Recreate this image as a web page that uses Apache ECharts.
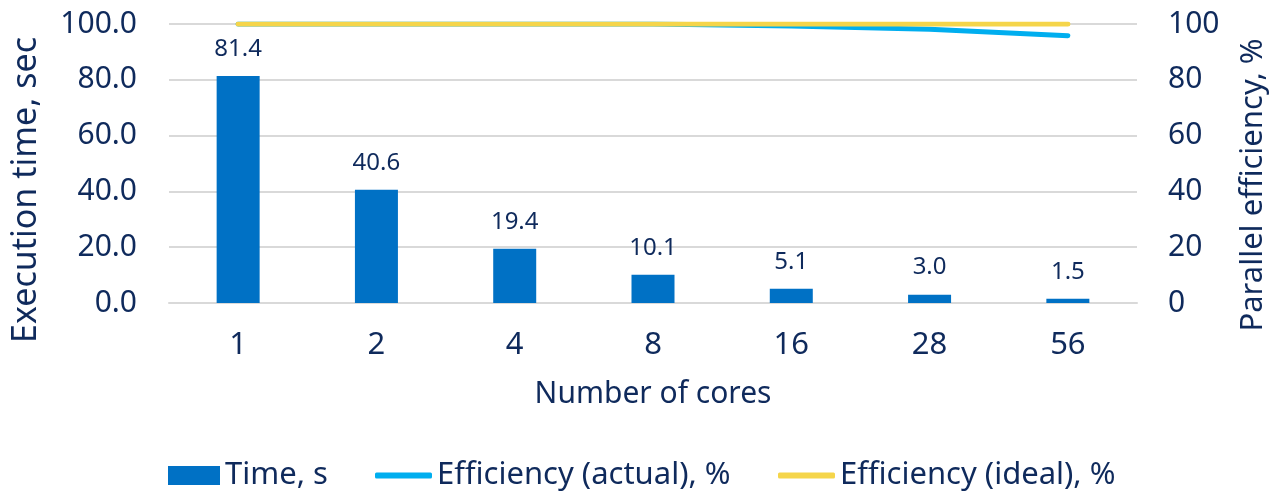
<!DOCTYPE html>
<html>
<head>
<meta charset="utf-8">
<script src="https://cdn.jsdelivr.net/npm/echarts@6/dist/echarts.min.js"></script>
<style>
html,body{margin:0;padding:0;background:#fff;}
#chart{width:1272px;height:492px;}
</style>
</head>
<body>
<div id="chart"></div>
<script>
const categories = ['1', '2', '4', '8', '16', '28', '56'];
const timeValues = [81.4, 40.6, 19.4, 10.1, 5.1, 3.0, 1.5];
const effActual = [100, 100, 100, 100, 99.3, 98.1, 95.8];
const effIdeal = [100, 100, 100, 100, 100, 100, 100];
const leftTicks = [0, 20, 40, 60, 80, 100];
const seriesNames = ['Time, s', 'Efficiency (actual), %', 'Efficiency (ideal), %'];

const TXT = '#0f2a5c';
const FONT = '"Noto Sans", "Open Sans", sans-serif';
const BAR = '#0071c5', ACT = '#00aeef', IDL = '#f5d54a';

const legendText = { fontSize: 31, color: TXT, fontFamily: FONT };

const chart = echarts.init(document.getElementById('chart'));
chart.setOption({
  animation: false,
  textStyle: { fontFamily: FONT, color: TXT },
  grid: { left: 169, right: 135, top: 24, bottom: 189, containLabel: false },
  legend: [
    { left: 168, top: 460, padding: 0, itemWidth: 52, itemHeight: 19,
      textStyle: legendText, data: [{ name: seriesNames[0], icon: 'rect' }] },
    { left: 375, top: 460, padding: 0, itemWidth: 57, itemHeight: 6,
      textStyle: legendText, data: [{ name: seriesNames[1], icon: 'roundRect' }] },
    { left: 778, top: 460, padding: 0, itemWidth: 57, itemHeight: 6,
      textStyle: legendText, data: [{ name: seriesNames[2], icon: 'roundRect' }] }
  ],
  xAxis: {
    type: 'category',
    data: categories,
    axisTick: { show: false },
    axisLine: { lineStyle: { color: '#d9d9d9', width: 2 } },
    axisLabel: { fontSize: 31, color: TXT, margin: 27, fontFamily: FONT },
    name: 'Number of cores',
    nameLocation: 'middle',
    nameGap: 76,
    nameTextStyle: { fontSize: 30, color: TXT, fontFamily: FONT }
  },
  yAxis: [
    {
      type: 'value', min: leftTicks[0], max: leftTicks[leftTicks.length - 1], interval: 20,
      axisLine: { show: false }, axisTick: { show: false },
      axisLabel: { fontSize: 30, color: TXT, margin: 32, fontFamily: FONT,
        formatter: v => v.toFixed(1) },
      splitLine: { lineStyle: { color: '#d9d9d9', width: 2 } }
    },
    {
      type: 'value', min: 0, max: 100, interval: 20,
      axisLine: { show: false }, axisTick: { show: false },
      axisLabel: { fontSize: 30, color: TXT, margin: 31, fontFamily: FONT },
      splitLine: { show: false }
    }
  ],
  graphic: [
    { type: 'text', x: 26, y: 190, rotation: Math.PI / 2,
      style: { text: 'Execution time, sec', fontSize: 34, fill: TXT, fontFamily: FONT,
        align: 'center', verticalAlign: 'middle' } },
    { type: 'text', x: 1253, y: 185, rotation: Math.PI / 2,
      style: { text: 'Parallel efficiency, %', fontSize: 31, fill: TXT, fontFamily: FONT,
        align: 'center', verticalAlign: 'middle' } }
  ],
  series: [
    {
      name: seriesNames[0], type: 'bar', data: timeValues, yAxisIndex: 0,
      barWidth: 43,
      itemStyle: { color: BAR },
      label: { show: true, position: 'top', distance: 15, fontSize: 24, color: TXT,
        fontFamily: FONT, formatter: p => p.value.toFixed(1) }
    },
    {
      name: seriesNames[1], type: 'line', data: effActual, yAxisIndex: 1,
      symbol: 'none', lineStyle: { color: ACT, width: 5, cap: 'round' },
      itemStyle: { color: ACT }
    },
    {
      name: seriesNames[2], type: 'line', data: effIdeal, yAxisIndex: 1,
      symbol: 'none', lineStyle: { color: IDL, width: 5, cap: 'round' },
      itemStyle: { color: IDL }
    }
  ]
});
</script>
</body>
</html>
